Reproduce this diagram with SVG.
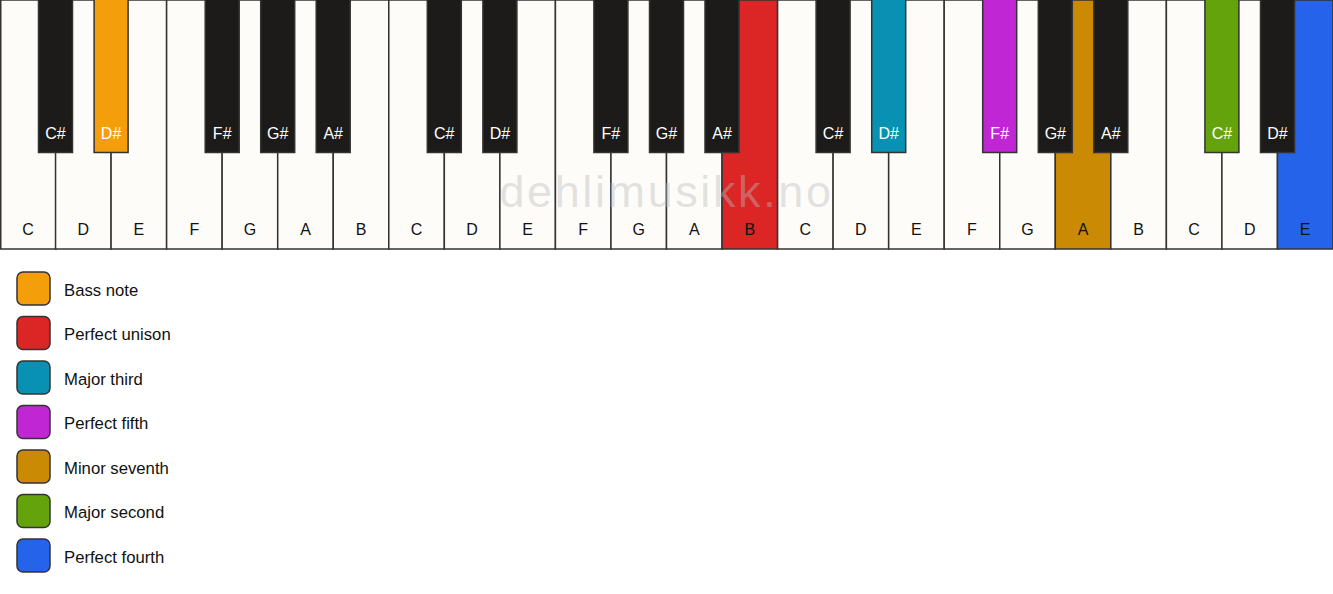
<svg xmlns="http://www.w3.org/2000/svg" width="1333" height="594" viewBox="0 0 1333 594">
<style>
.w{fill:#fdfcf9;stroke:#333;stroke-width:1.5}
.b{fill:#1c1b19;stroke:#333;stroke-width:1.5}
.wl{font-family:"Liberation Sans",Arial,sans-serif;font-size:16px;fill:#111;text-anchor:middle}
.bl{font-family:"Liberation Sans",Arial,sans-serif;font-size:16px;fill:#fff;text-anchor:middle}
.lg{stroke:#333;stroke-width:1.5}
.lt{font-family:"Liberation Sans",Arial,sans-serif;font-size:16.7px;fill:#111}
.wm{font-family:"Liberation Sans",Arial,sans-serif;font-size:45px;fill:#bbb;fill-opacity:0.42;text-anchor:middle;letter-spacing:2.6px}
</style>
<rect width="1333" height="594" fill="#ffffff"/>
<g id="white-keys">
<g id="w0"><rect class="w" x="0.75" y="0" width="55.54" height="249"/><text class="wl" x="28" y="235">C</text></g>
<g id="w1"><rect class="w" x="55.54" y="0" width="55.54" height="249"/><text class="wl" x="83.3" y="235">D</text></g>
<g id="w2"><rect class="w" x="111.08" y="0" width="55.54" height="249"/><text class="wl" x="138.9" y="235">E</text></g>
<g id="w3"><rect class="w" x="166.62" y="0" width="55.54" height="249"/><text class="wl" x="194.4" y="235">F</text></g>
<g id="w4"><rect class="w" x="222.17" y="0" width="55.54" height="249"/><text class="wl" x="249.9" y="235">G</text></g>
<g id="w5"><rect class="w" x="277.71" y="0" width="55.54" height="249"/><text class="wl" x="305.5" y="235">A</text></g>
<g id="w6"><rect class="w" x="333.25" y="0" width="55.54" height="249"/><text class="wl" x="361" y="235">B</text></g>
<g id="w7"><rect class="w" x="388.79" y="0" width="55.54" height="249"/><text class="wl" x="416.6" y="235">C</text></g>
<g id="w8"><rect class="w" x="444.33" y="0" width="55.54" height="249"/><text class="wl" x="472.1" y="235">D</text></g>
<g id="w9"><rect class="w" x="499.87" y="0" width="55.54" height="249"/><text class="wl" x="527.6" y="235">E</text></g>
<g id="w10"><rect class="w" x="555.42" y="0" width="55.54" height="249"/><text class="wl" x="583.2" y="235">F</text></g>
<g id="w11"><rect class="w" x="610.96" y="0" width="55.54" height="249"/><text class="wl" x="638.7" y="235">G</text></g>
<g id="w12"><rect class="w" x="666.5" y="0" width="55.54" height="249"/><text class="wl" x="694.3" y="235">A</text></g>
<g id="w13"><rect class="w" x="722.04" y="0" width="55.54" height="249" style="fill:#dc2626"/><text class="wl" x="749.8" y="235">B</text></g>
<g id="w14"><rect class="w" x="777.58" y="0" width="55.54" height="249"/><text class="wl" x="805.4" y="235">C</text></g>
<g id="w15"><rect class="w" x="833.12" y="0" width="55.54" height="249"/><text class="wl" x="860.9" y="235">D</text></g>
<g id="w16"><rect class="w" x="888.67" y="0" width="55.54" height="249"/><text class="wl" x="916.4" y="235">E</text></g>
<g id="w17"><rect class="w" x="944.21" y="0" width="55.54" height="249"/><text class="wl" x="972" y="235">F</text></g>
<g id="w18"><rect class="w" x="999.75" y="0" width="55.54" height="249"/><text class="wl" x="1027.5" y="235">G</text></g>
<g id="w19"><rect class="w" x="1055.29" y="0" width="55.54" height="249" style="fill:#ca8a04"/><text class="wl" x="1083.1" y="235">A</text></g>
<g id="w20"><rect class="w" x="1110.83" y="0" width="55.54" height="249"/><text class="wl" x="1138.6" y="235">B</text></g>
<g id="w21"><rect class="w" x="1166.37" y="0" width="55.54" height="249"/><text class="wl" x="1194.1" y="235">C</text></g>
<g id="w22"><rect class="w" x="1221.92" y="0" width="55.54" height="249"/><text class="wl" x="1249.7" y="235">D</text></g>
<g id="w23"><rect class="w" x="1277.46" y="0" width="55.54" height="249" style="fill:#2563eb"/><text class="wl" x="1305.2" y="235">E</text></g>
</g>
<g id="black-keys">
<g id="b1"><rect class="b" x="38.5" y="-2" width="34" height="154.5"/><text class="bl" x="55.5" y="138.5">C#</text></g>
<g id="b2"><rect class="b" x="94.1" y="-2" width="34" height="154.5" style="fill:#f59e0b"/><text class="bl" x="111.1" y="138.5">D#</text></g>
<g id="b4"><rect class="b" x="205.2" y="-2" width="34" height="154.5"/><text class="bl" x="222.2" y="138.5">F#</text></g>
<g id="b5"><rect class="b" x="260.7" y="-2" width="34" height="154.5"/><text class="bl" x="277.7" y="138.5">G#</text></g>
<g id="b6"><rect class="b" x="316.2" y="-2" width="34" height="154.5"/><text class="bl" x="333.2" y="138.5">A#</text></g>
<g id="b8"><rect class="b" x="427.3" y="-2" width="34" height="154.5"/><text class="bl" x="444.3" y="138.5">C#</text></g>
<g id="b9"><rect class="b" x="482.9" y="-2" width="34" height="154.5"/><text class="bl" x="499.9" y="138.5">D#</text></g>
<g id="b11"><rect class="b" x="593.9" y="-2" width="34" height="154.5"/><text class="bl" x="610.9" y="138.5">F#</text></g>
<g id="b12"><rect class="b" x="649.5" y="-2" width="34" height="154.5"/><text class="bl" x="666.5" y="138.5">G#</text></g>
<g id="b13"><rect class="b" x="705" y="-2" width="34" height="154.5"/><text class="bl" x="722" y="138.5">A#</text></g>
<g id="b15"><rect class="b" x="816.1" y="-2" width="34" height="154.5"/><text class="bl" x="833.1" y="138.5">C#</text></g>
<g id="b16"><rect class="b" x="871.7" y="-2" width="34" height="154.5" style="fill:#0891b2"/><text class="bl" x="888.7" y="138.5">D#</text></g>
<g id="b18"><rect class="b" x="982.7" y="-2" width="34" height="154.5" style="fill:#c026d3"/><text class="bl" x="999.7" y="138.5">F#</text></g>
<g id="b19"><rect class="b" x="1038.3" y="-2" width="34" height="154.5"/><text class="bl" x="1055.3" y="138.5">G#</text></g>
<g id="b20"><rect class="b" x="1093.8" y="-2" width="34" height="154.5"/><text class="bl" x="1110.8" y="138.5">A#</text></g>
<g id="b22"><rect class="b" x="1204.9" y="-2" width="34" height="154.5" style="fill:#65a30d"/><text class="bl" x="1221.9" y="138.5">C#</text></g>
<g id="b23"><rect class="b" x="1260.5" y="-2" width="34" height="154.5"/><text class="bl" x="1277.5" y="138.5">D#</text></g>
</g>
<text id="watermark" class="wm" x="666.5" y="207">dehlimusikk.no</text>
<g id="legend">
<g id="lg1"><rect class="lg" x="17" y="272" width="33" height="33" rx="6" fill="#f59e0b"/><text class="lt" x="64" y="295.5">Bass note</text></g>
<g id="lg2"><rect class="lg" x="17" y="316.5" width="33" height="33" rx="6" fill="#dc2626"/><text class="lt" x="64" y="340">Perfect unison</text></g>
<g id="lg3"><rect class="lg" x="17" y="361" width="33" height="33" rx="6" fill="#0891b2"/><text class="lt" x="64" y="384.5">Major third</text></g>
<g id="lg4"><rect class="lg" x="17" y="405.5" width="33" height="33" rx="6" fill="#c026d3"/><text class="lt" x="64" y="429">Perfect fifth</text></g>
<g id="lg5"><rect class="lg" x="17" y="450" width="33" height="33" rx="6" fill="#ca8a04"/><text class="lt" x="64" y="473.5">Minor seventh</text></g>
<g id="lg6"><rect class="lg" x="17" y="494.5" width="33" height="33" rx="6" fill="#65a30d"/><text class="lt" x="64" y="518">Major second</text></g>
<g id="lg7"><rect class="lg" x="17" y="539" width="33" height="33" rx="6" fill="#2563eb"/><text class="lt" x="64" y="562.5">Perfect fourth</text></g>
</g>
</svg>
